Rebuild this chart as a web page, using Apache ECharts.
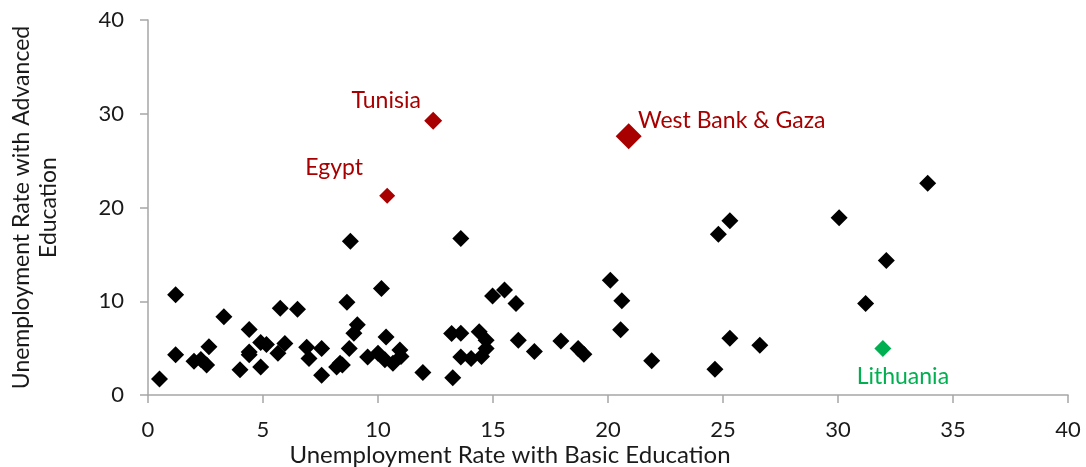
<!DOCTYPE html>
<html lang="en">

<head>
  <meta charset="UTF-8">
  <title>Unemployment by education</title>
  <script src="https://cdn.jsdelivr.net/npm/echarts@6/dist/echarts.min.js"></script>
  <style>
    body { margin: 0; background: #fff; }
  </style>
</head>

<body>
  <div id="main" style="width: 1086px; height: 467px;"></div>
  <script>
    // x = unemployment with basic education, y = with advanced education
    var basicEdu = [0.5, 1.2, 1.2, 2.0, 2.3, 2.55, 2.65, 3.3, 4.0, 4.4, 4.4, 4.4, 4.9, 4.9, 5.15,
      5.75, 5.95, 5.65, 6.5, 6.9, 7.0, 7.55, 7.55, 8.2, 8.45, 8.65, 8.75, 8.8, 8.95, 9.1, 8.35,
      9.55, 10.0, 10.15, 10.35, 10.3, 10.65, 10.95, 11.0, 11.95, 13.25, 13.6, 13.6, 14.05, 14.4,
      14.7, 14.7, 14.5, 13.6, 14.98, 15.5, 16.0, 16.1, 16.8, 17.95, 18.7, 18.95, 20.1, 20.6,
      20.55, 21.9, 25.3, 24.8, 25.3, 26.6, 24.65, 30.05, 32.1, 31.2, 33.9, 13.2];
    var advancedEdu = [1.7, 10.7, 4.3, 3.6, 3.8, 3.2, 5.15, 8.35, 2.7, 7.0, 4.6, 4.3, 3.0, 5.6, 5.4,
      9.25, 5.5, 4.45, 9.15, 5.1, 3.9, 2.1, 4.95, 3.0, 3.2, 9.9, 4.95, 16.4, 6.6, 7.5, 3.4,
      4.05, 4.45, 11.35, 6.2, 3.75, 3.4, 4.8, 4.1, 2.4, 1.85, 6.6, 4.05, 3.9, 6.75,
      5.85, 4.95, 4.1, 16.7, 10.55, 11.2, 9.75, 5.85, 4.65, 5.75, 4.95, 4.35, 12.25, 10.05,
      6.95, 3.65, 18.6, 17.15, 6.05, 5.3, 2.75, 18.9, 14.35, 9.75, 22.6, 6.55];

    // highlighted economies
    var redNames = ['Tunisia', 'Egypt', 'West Bank & Gaza'];
    var redBasic = [12.4, 10.4, 20.9];
    var redAdvanced = [29.25, 21.25, 27.6];
    var greenNames = ['Lithuania'];
    var greenBasic = [31.95];
    var greenAdvanced = [4.95];

    var xTicks = [0, 5, 10, 15, 20, 25, 30, 35, 40];
    var yTicks = [0, 10, 20, 30, 40];

    var font = 'Lato, "Open Sans", sans-serif';
    var axisGray = '#a6a6a6';
    var red = '#a80000';
    var green = '#00b050';

    var others = basicEdu.map(function (v, i) { return [v, advancedEdu[i]]; });

    // label offsets for the named points, relative to the marker centre
    var redLabel = [
      { offset: [-47, -20], size: 18 },
      { offset: [-53, -28], size: 16 },
      { offset: [103, -16], size: 26 }
    ];
    var redData = redNames.map(function (n, i) {
      return {
        name: n,
        value: [redBasic[i], redAdvanced[i]],
        symbolSize: redLabel[i].size,
        label: { offset: redLabel[i].offset }
      };
    });
    var greenData = greenNames.map(function (n, i) {
      return { name: n, value: [greenBasic[i], greenAdvanced[i]] };
    });

    var myChart = echarts.init(document.getElementById('main'));
    var option = {
      animation: false,
      textStyle: { fontFamily: font },
      grid: { left: 148, right: 18, top: 20, bottom: 72, outerBoundsMode: 'none' },
      xAxis: {
        type: 'value',
        min: xTicks[0],
        max: xTicks[xTicks.length - 1],
        interval: 5,
        name: 'Unemployment Rate with Basic Education',
        nameLocation: 'middle',
        nameGap: 48,
        nameMoveOverlap: false,
        // title sits left of the plot centre in the original
        nameTextStyle: { fontSize: 24, color: '#1a1a1a', fontFamily: font, padding: [0, 196, 0, 0] },
        axisLine: { lineStyle: { color: axisGray, width: 1.5 } },
        axisTick: { show: true, length: 8, lineStyle: { color: axisGray, width: 1.5 } },
        axisLabel: { fontSize: 22, color: '#1a1a1a', margin: 24, fontFamily: font },
        splitLine: { show: false }
      },
      yAxis: {
        type: 'value',
        min: yTicks[0],
        max: yTicks[yTicks.length - 1],
        interval: 10,
        name: 'Unemployment Rate with Advanced\nEducation',
        nameLocation: 'middle',
        nameGap: 86,
        nameMoveOverlap: false,
        nameRotate: 90,
        nameTextStyle: { fontSize: 23, color: '#1a1a1a', lineHeight: 27, fontFamily: font },
        axisLine: { show: true, lineStyle: { color: axisGray, width: 1.5 } },
        axisTick: { show: true, length: 8, lineStyle: { color: axisGray, width: 1.5 } },
        axisLabel: { fontSize: 22, color: '#1a1a1a', margin: 24, fontFamily: font },
        splitLine: { show: false }
      },
      series: [
        {
          type: 'scatter',
          symbol: 'diamond',
          symbolSize: 17,
          itemStyle: { color: '#000', opacity: 1 },
          data: others
        },
        {
          type: 'scatter',
          symbol: 'diamond',
          itemStyle: { color: red, opacity: 1 },
          label: {
            show: true,
            position: 'inside',
            formatter: '{b}',
            color: red,
            fontSize: 23,
            fontFamily: font
          },
          data: redData
        },
        {
          type: 'scatter',
          symbol: 'diamond',
          symbolSize: 17,
          itemStyle: { color: green, opacity: 1 },
          label: {
            show: true,
            position: 'inside',
            formatter: '{b}',
            color: green,
            fontSize: 23,
            offset: [20, 28],
            fontFamily: font
          },
          data: greenData
        }
      ]
    };
    myChart.setOption(option);
  </script>
</body>

</html>
